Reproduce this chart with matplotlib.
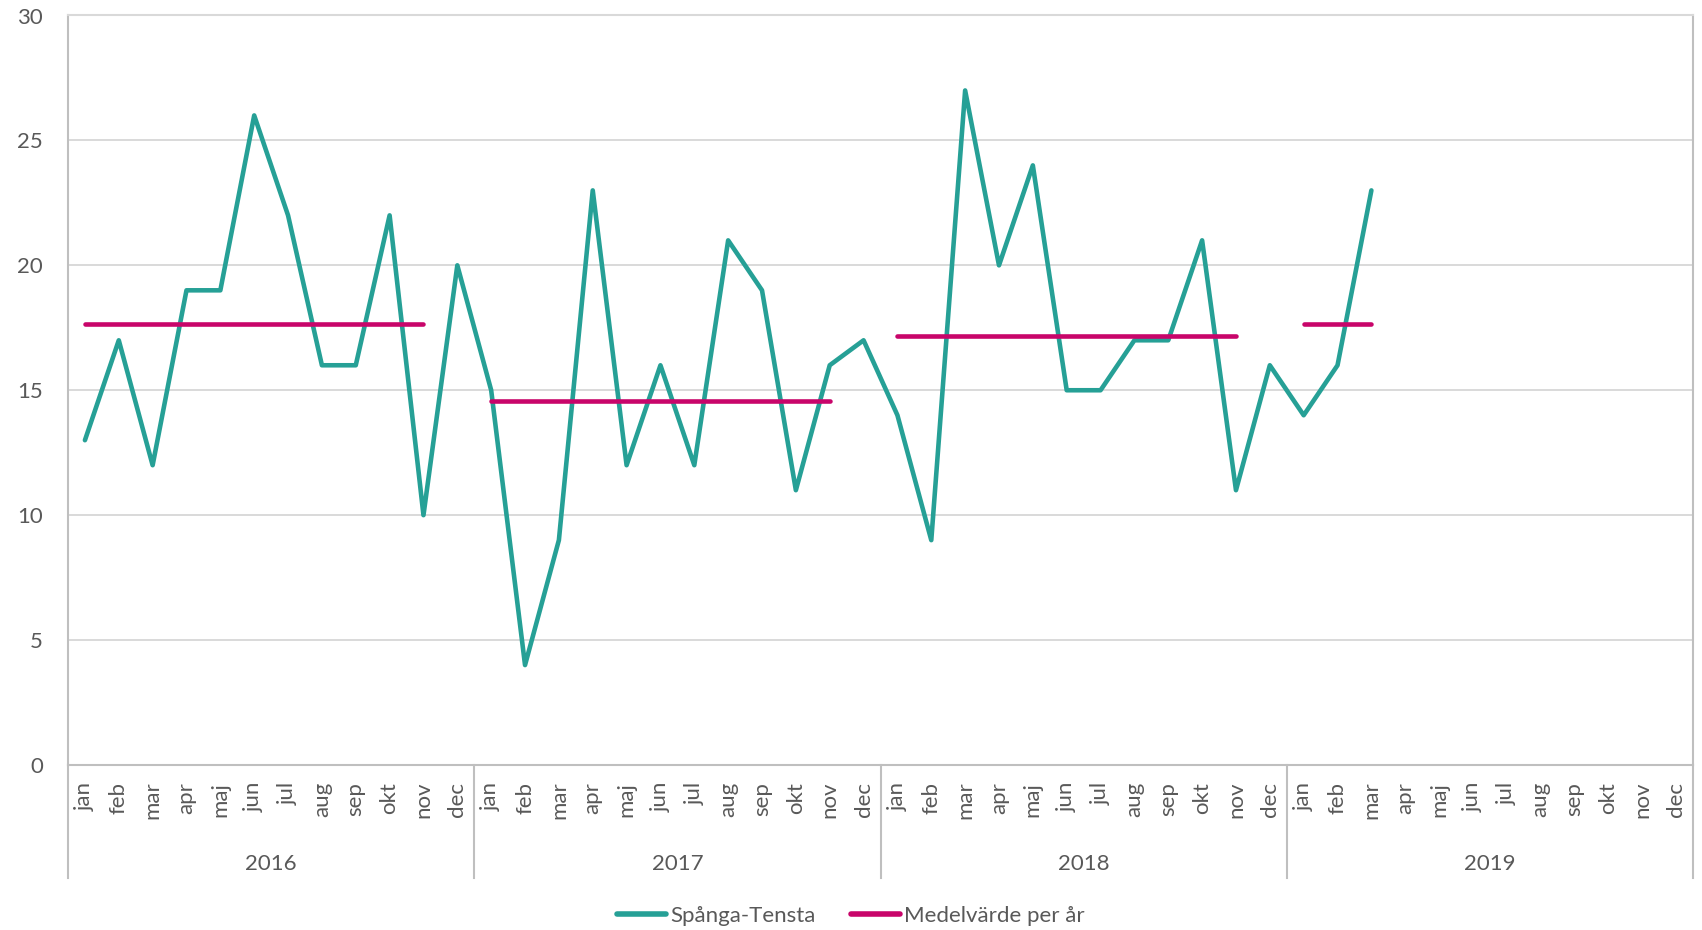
import numpy as np
import matplotlib
matplotlib.use('Agg')
from matplotlib import pyplot as plt
from matplotlib import transforms

plt.rcParams['font.family'] = ['Lato', 'DejaVu Sans']

# monthly counts, jan 2016 - mar 2019
years = ['2016', '2017', '2018', '2019']
months = ['jan', 'feb', 'mar', 'apr', 'maj', 'jun', 'jul', 'aug', 'sep', 'okt', 'nov', 'dec']
values_2016 = [13, 17, 12, 19, 19, 26, 22, 16, 16, 22, 10, 20]
values_2017 = [15, 4, 9, 23, 12, 16, 12, 21, 19, 11, 16, 17]
values_2018 = [14, 9, 27, 20, 24, 15, 15, 17, 17, 21, 11, 16]
values_2019 = [14, 16, 23]

# yearly means, and how many months each mean line spans in the original chart
mean_per_year = [17.67, 14.58, 17.17, 17.67]
mean_span = [11, 11, 11, 3]

series_label = 'Spånga-Tensta'
mean_label = 'Medelvärde per år'

teal = '#26A096'
magenta = '#C8056A'
text_col = '#595959'
axis_col = '#BFBFBF'
grid_col = '#D9D9D9'
fs = 16

values = values_2016 + values_2017 + values_2018 + values_2019
x = np.arange(len(values))
n_cat = len(years) * len(months)

fig = plt.figure(figsize=(17.02, 9.30), dpi=100)
ax = fig.add_axes([68 / 1702, 1 - 765 / 930, (1693 - 68) / 1702, (765 - 15.5) / 930])

ax.plot(x, values, color=teal, lw=3.3, solid_joinstyle='round', solid_capstyle='round',
        label=series_label, zorder=3)
for i, (m, span) in enumerate(zip(mean_per_year, mean_span)):
    xs = np.arange(span) + i * 12
    ax.plot(xs, [m] * span, color=magenta, lw=3.3, solid_capstyle='round',
            label=mean_label if i == 0 else None, zorder=4)

ax.set_xlim(-0.5, n_cat - 0.5)
ax.set_ylim(0, 30)
ax.set_yticks(range(0, 31, 5))
ax.yaxis.grid(True, color=grid_col, lw=1.4)
ax.set_axisbelow(True)

ax.set_xticks(range(n_cat))
ax.set_xticklabels(months * len(years), rotation=90)
ax.tick_params(axis='x', length=0, pad=12, labelsize=fs, labelcolor=text_col)
ax.tick_params(axis='y', length=0, pad=18, labelsize=fs, labelcolor=text_col)

for side in ['left', 'right', 'top', 'bottom']:
    ax.spines[side].set_color(axis_col)
    ax.spines[side].set_linewidth(1.5)
ax.spines['top'].set_color(grid_col)

# year groups below the month labels
trans = transforms.blended_transform_factory(ax.transData, ax.transAxes)
sep_bottom = -(878 - 765) / 749.5
for k in range(len(years) + 1):
    xb = k * 12 - 0.5
    ax.plot([xb, xb], [0, sep_bottom], transform=trans, color=axis_col, lw=1.5, clip_on=False)
for k, yr in enumerate(years):
    ax.text(k * 12 + 5.5, -(864 - 765) / 749.5, yr, transform=trans, ha='center', va='center',
            fontsize=fs, color=text_col)

leg = fig.legend(loc='center', bbox_to_anchor=(0.5, 1 - 916 / 930), ncol=2, frameon=False,
                 fontsize=fs, handlelength=2.2, handletextpad=0.2, columnspacing=1.6,
                 labelcolor=text_col)
for h in leg.legend_handles:
    h.set_linewidth(4)

plt.savefig('out.png', dpi=100)
